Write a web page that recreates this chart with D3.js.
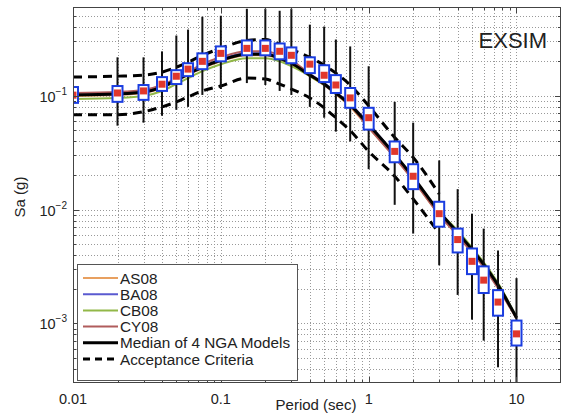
<!DOCTYPE html>
<html>
<head>
<meta charset="utf-8">
<script src="https://cdn.jsdelivr.net/npm/d3@7"></script>
<style>
body { margin: 0; background: #fff; }
text { font-family: "Liberation Sans", Arial, Helvetica, sans-serif; fill: #222; }
</style>
</head>
<body>
<script>
// periods (sec) at which the simulations are summarised
const periods = [0.01, 0.02, 0.03, 0.04, 0.05, 0.06, 0.075, 0.1, 0.15, 0.2, 0.25, 0.3,
                 0.4, 0.5, 0.6, 0.75, 1, 1.5, 2, 3, 4, 5, 6, 7.5, 10];

// EXSIM simulations: median, box (25-75%) and whisker range
const simMedian = [0.101, 0.1055, 0.110, 0.126, 0.148, 0.171, 0.200, 0.235, 0.260, 0.260, 0.245, 0.226,
                   0.189, 0.151, 0.124, 0.0955, 0.064, 0.0324, 0.0196, 0.0092, 0.00545, 0.00351, 0.0024, 0.00154, 0.00081];
const boxLow = [0.0864, 0.0882, 0.0918, 0.110, 0.1264, 0.1483, 0.1707, 0.200, 0.226, 0.226, 0.2085, 0.1925,
                0.1576, 0.1315, 0.1055, 0.0782, 0.0503, 0.0260, 0.0151, 0.00707, 0.0042, 0.00271, 0.00185, 0.00117, 0.00064];
const boxHigh = [0.119, 0.1214, 0.1239, 0.1454, 0.1673, 0.1925, 0.235, 0.2705, 0.305, 0.305, 0.287, 0.265,
                 0.217, 0.1849, 0.1514, 0.1167, 0.0782, 0.0396, 0.0250, 0.0117, 0.0068, 0.00455, 0.00317, 0.00196, 0.00106];
const whiskLow = [0.0545, 0.0545, 0.0579, 0.0666, 0.0751, 0.0797, 0.1014, 0.1143, 0.1289, 0.1239, 0.110, 0.1014,
                  0.0797, 0.064, 0.0483, 0.0396, 0.0226, 0.0110, 0.00615, 0.00324, 0.00178, 0.00108, 0.000707, 0.000412, 0.00025];
const whiskHigh = [0.217, 0.217, 0.217, 0.2447, 0.337, 0.380, 0.493, 0.503, 0.579, 0.579, 0.556, 0.579,
                   0.420, 0.404, 0.311, 0.2705, 0.1812, 0.0882, 0.0579, 0.0270, 0.0151, 0.0092, 0.0068, 0.00437, 0.0025];

// NGA models
const as08 = [0.0994, 0.1014, 0.1055, 0.1166, 0.1342, 0.1513, 0.1741, 0.2002, 0.2259, 0.2259, 0.2084, 0.1887,
              0.1484, 0.1239, 0.1034, 0.0798, 0.0524, 0.0287, 0.0181, 0.0090, 0.00591, 0.00420, 0.00317, 0.00209, 0.00112];
const ba08 = [0.1014, 0.1035, 0.1077, 0.1190, 0.1369, 0.1544, 0.1777, 0.2084, 0.2351, 0.2351, 0.2170, 0.1964,
              0.1544, 0.1289, 0.1076, 0.0847, 0.0567, 0.0305, 0.0192, 0.00955, 0.0064, 0.00455, 0.00337, 0.00221, 0.00114];
const cb08 = [0.0936, 0.0955, 0.0994, 0.1098, 0.1264, 0.1425, 0.1640, 0.1886, 0.2128, 0.2128, 0.2004, 0.1813,
              0.1484, 0.1239, 0.1034, 0.0813, 0.0545, 0.0305, 0.0192, 0.00955, 0.00653, 0.00464, 0.00344, 0.00226, 0.00114];
const cy08 = [0.1056, 0.1077, 0.1121, 0.1239, 0.1425, 0.1607, 0.1887, 0.2170, 0.2448, 0.2448, 0.2259, 0.2044,
              0.1544, 0.1239, 0.1034, 0.0813, 0.0524, 0.0287, 0.0181, 0.0090, 0.00591, 0.0042, 0.00311, 0.00204, 0.0011];
const ngaMedian = [0.1014, 0.1035, 0.1077, 0.1190, 0.1369, 0.1544, 0.1777, 0.2043, 0.2305, 0.2305, 0.2127, 0.1925,
                   0.1514, 0.1264, 0.1055, 0.0830, 0.0556, 0.0305, 0.0192, 0.00955, 0.00627, 0.00446, 0.0033, 0.00217, 0.00112];

// acceptance criteria band
const critPeriods = [0.01, 0.02, 0.03, 0.04, 0.05, 0.06, 0.075, 0.1, 0.15, 0.2, 0.25, 0.3,
                     0.4, 0.5, 0.6, 0.75, 1, 1.5, 2, 3];
const critUpper = [0.1454, 0.1483, 0.1514, 0.1608, 0.1777, 0.1963, 0.2259, 0.260, 0.305, 0.311, 0.2816, 0.2547,
                   0.217, 0.1849, 0.1576, 0.1239, 0.0813, 0.0429, 0.0287, 0.0137];
const critLower = [0.0680, 0.0680, 0.0722, 0.0797, 0.0882, 0.0974, 0.1099, 0.1214, 0.1425, 0.1397, 0.1264, 0.1143,
                   0.0955, 0.0782, 0.0640, 0.0493, 0.0324, 0.0196, 0.01239, 0.00615];

const xTickLabels = ["0.01", "0.1", "1", "10"];
const yTickExp = [-3, -2, -1];

const models = [
    {name: "AS08", values: as08, color: "#e8a060", width: 2},
    {name: "BA08", values: ba08, color: "#5a5ad0", width: 2},
    {name: "CB08", values: cb08, color: "#92b848", width: 2},
    {name: "CY08", values: cy08, color: "#b05c5c", width: 2},
];

const W = 563, H = 418;
const plotL = 73, plotR = 561, plotT = 7, plotB = 383;

const svg = d3.select("body").append("svg")
    .attr("width", W)
    .attr("height", H);

const x = d3.scaleLog().domain([0.01, 20]).range([plotL, plotR]);
const y = d3.scaleLog().domain([3e-4, 0.6]).range([plotB, plotT]);

const isMajor = t => Math.abs(Math.log10(t) - Math.round(Math.log10(t))) < 1e-9;

svg.append("defs").append("clipPath").attr("id", "plot")
    .append("rect")
    .attr("x", plotL).attr("y", plotT)
    .attr("width", plotR - plotL).attr("height", plotB - plotT);

// dotted grid
const grid = svg.append("g")
    .attr("stroke", "#999")
    .attr("stroke-width", 1)
    .attr("stroke-dasharray", "1,2");
grid.selectAll(".gx")
    .data(x.ticks().filter(t => t > 0.01 && t < 20))
    .enter().append("line")
        .attr("x1", d => Math.round(x(d)) + 0.5).attr("x2", d => Math.round(x(d)) + 0.5)
        .attr("y1", plotT).attr("y2", plotB);
grid.selectAll(".gy")
    .data(y.ticks().filter(t => t > 3e-4 && t < 0.6))
    .enter().append("line")
        .attr("y1", d => Math.round(y(d)) + 0.5).attr("y2", d => Math.round(y(d)) + 0.5)
        .attr("x1", plotL).attr("x2", plotR);

const plot = svg.append("g").attr("clip-path", "url(#plot)");

const line = d3.line()
    .x(d => x(d[0]))
    .y(d => y(d[1]))
    .curve(d3.curveMonotoneX);

models.forEach(m => {
    plot.append("path")
        .attr("d", line(d3.zip(periods, m.values)))
        .attr("fill", "none")
        .attr("stroke", m.color)
        .attr("stroke-width", m.width);
});

plot.append("path")
    .attr("d", line(d3.zip(periods, ngaMedian)))
    .attr("fill", "none")
    .attr("stroke", "#000")
    .attr("stroke-width", 3);

[critUpper, critLower].forEach(vals => {
    plot.append("path")
        .attr("d", line(d3.zip(critPeriods, vals)))
        .attr("fill", "none")
        .attr("stroke", "#000")
        .attr("stroke-width", 3)
        .attr("stroke-dasharray", "9,6");
});

const sims = periods.map((p, i) => ({
    p: p, med: simMedian[i], lo: boxLow[i], hi: boxHigh[i], wlo: whiskLow[i], whi: whiskHigh[i]
}));

plot.selectAll(".whisker")
    .data(sims)
    .enter().append("line")
        .attr("x1", d => x(d.p)).attr("x2", d => x(d.p))
        .attr("y1", d => y(d.whi)).attr("y2", d => y(d.wlo))
        .attr("stroke", "#111")
        .attr("stroke-width", 2);

plot.selectAll(".box")
    .data(sims)
    .enter().append("rect")
        .attr("x", d => x(d.p) - 5)
        .attr("y", d => y(d.hi))
        .attr("width", 10)
        .attr("height", d => y(d.lo) - y(d.hi))
        .attr("fill", "#fff")
        .attr("stroke", "#1a3de0")
        .attr("stroke-width", 2);

plot.selectAll(".med")
    .data(sims)
    .enter().append("rect")
        .attr("x", d => x(d.p) - 3.5)
        .attr("y", d => y(d.med) - 3.5)
        .attr("width", 7)
        .attr("height", 7)
        .attr("fill", "#e0372c");

// axes box and inside ticks on all four sides
const axes = svg.append("g").attr("stroke", "#444").attr("stroke-width", 1);
axes.append("rect")
    .attr("x", plotL + 0.5).attr("y", plotT + 0.5)
    .attr("width", plotR - plotL - 1).attr("height", plotB - plotT - 1)
    .attr("fill", "none");
x.ticks().filter(t => t > 0.01 && t < 20).forEach(t => {
    const len = isMajor(t) ? 6 : 3, px = Math.round(x(t)) + 0.5;
    axes.append("line").attr("x1", px).attr("x2", px).attr("y1", plotB).attr("y2", plotB - len);
    axes.append("line").attr("x1", px).attr("x2", px).attr("y1", plotT).attr("y2", plotT + len);
});
y.ticks().filter(t => t > 3e-4 && t < 0.6).forEach(t => {
    const len = isMajor(t) ? 6 : 3, py = Math.round(y(t)) + 0.5;
    axes.append("line").attr("y1", py).attr("y2", py).attr("x1", plotL).attr("x2", plotL + len);
    axes.append("line").attr("y1", py).attr("y2", py).attr("x1", plotR).attr("x2", plotR - len);
});

// tick labels
svg.selectAll(".xl")
    .data(xTickLabels)
    .enter().append("text")
        .attr("x", d => x(+d))
        .attr("y", 404)
        .attr("text-anchor", "middle")
        .attr("font-size", 14.5)
        .text(d => d);

const yl = svg.selectAll(".yl")
    .data(yTickExp)
    .enter().append("text")
        .attr("x", 67)
        .attr("y", d => y(Math.pow(10, d)) + 6)
        .attr("text-anchor", "end")
        .attr("font-size", 14.5);
yl.append("tspan").text("10");
yl.append("tspan").attr("dy", -7).attr("font-size", 10).text(d => "\u2212" + (-d));

svg.append("text")
    .attr("x", 316).attr("y", 410)
    .attr("text-anchor", "middle")
    .attr("font-size", 15)
    .text("Period (sec)");

svg.append("text")
    .attr("transform", "translate(25,197) rotate(-90)")
    .attr("text-anchor", "middle")
    .attr("font-size", 15)
    .text("Sa (g)");

svg.append("text")
    .attr("x", 547).attr("y", 48)
    .attr("text-anchor", "end")
    .attr("font-size", 22)
    .text("EXSIM");

// legend
const entries = models.map(m => ({name: m.name, color: m.color, width: 2, dash: null}))
    .concat([
        {name: "Median of 4 NGA Models", color: "#000", width: 3, dash: null},
        {name: "Acceptance Criteria", color: "#000", width: 3, dash: "7,5"},
    ]);

const legend = svg.append("g");
legend.append("rect")
    .attr("x", 77.5).attr("y", 264.5)
    .attr("width", 220).attr("height", 116)
    .attr("fill", "#fff")
    .attr("stroke", "#555");
const items = legend.selectAll(".item")
    .data(entries)
    .enter().append("g")
        .attr("transform", (d, i) => `translate(0, ${278 + i * 16.2})`);
items.append("line")
    .attr("x1", 83).attr("x2", 118)
    .attr("stroke", d => d.color)
    .attr("stroke-width", d => d.width)
    .attr("stroke-dasharray", d => d.dash);
items.append("text")
    .attr("x", 120)
    .attr("dy", "0.36em")
    .attr("font-size", 15.3)
    .text(d => d.name);
</script>
</body>
</html>
